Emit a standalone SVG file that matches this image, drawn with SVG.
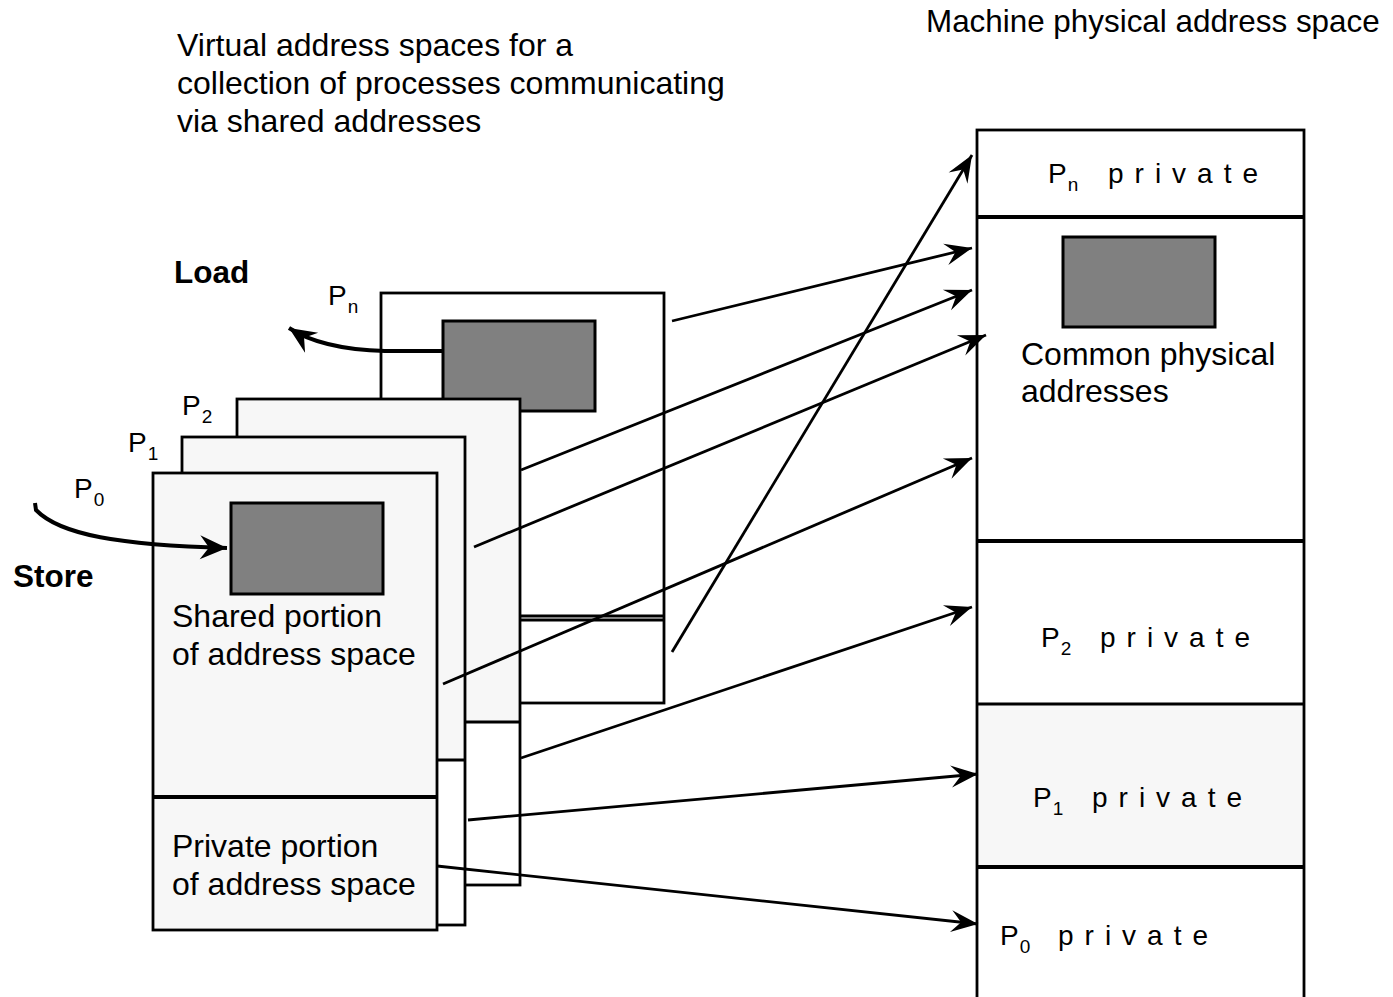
<svg xmlns="http://www.w3.org/2000/svg" width="1393" height="997" viewBox="0 0 1393 997">
<defs>
<style>
text{font-family:"Liberation Sans",Arial,sans-serif;fill:#000}
.t{font-size:32px}
.m{font-size:31.4px}
.b{font-size:31.5px;font-weight:bold}
.p{font-size:28px}
.s{font-size:19px}
.pv{font-size:28px;letter-spacing:11px}
.box{stroke:#000;stroke-width:2.8}
.gray{fill:#808080;stroke:#000;stroke-width:3}
.thick{stroke:#000;stroke-width:4}
.thin{stroke:#000;stroke-width:2.8}
.conn{fill:none;stroke:#000;stroke-width:2.8;marker-end:url(#ah)}
.ls{fill:none;stroke:#000;stroke-width:4;marker-end:url(#ah2)}
</style>
<marker id="ah" viewBox="-30 -14 32 28" markerUnits="userSpaceOnUse" markerWidth="32" markerHeight="28" refX="0" refY="0" orient="auto">
<path d="M0,0 L-27,-11 L-17,0 L-27,11 Z" fill="#000"/>
</marker>
<marker id="ah2" viewBox="-30 -14 32 28" markerUnits="userSpaceOnUse" markerWidth="32" markerHeight="28" refX="0" refY="0" orient="auto">
<path d="M0,0 L-27,-12 L-18,0 L-27,12 Z" fill="#000"/>
</marker>
</defs>
<rect width="1393" height="997" fill="#fff"/>

<g id="titles">
<text class="t" x="177" y="56">Virtual address spaces for a</text>
<text class="t" x="177" y="94">collection of processes communicating</text>
<text class="t" x="177" y="132">via shared addresses</text>
<text class="m" x="926" y="32">Machine physical address space</text>
</g>

<g id="proc-n">
<rect class="box" x="381" y="293" width="283" height="410" fill="#fff"/>
<line class="thin" x1="381" y1="616" x2="664" y2="616"/>
<line class="thin" x1="381" y1="620" x2="664" y2="620"/>
<rect class="gray" x="443" y="321" width="152" height="90"/>
<text class="p" x="328" y="305">P<tspan class="s" dx="1" dy="8">n</tspan></text>
</g>

<g id="proc-2">
<rect x="237" y="399" width="283" height="323" fill="#f7f7f7"/>
<rect x="237" y="722" width="283" height="163" fill="#fff"/>
<rect class="box" x="237" y="399" width="283" height="486" fill="none"/>
<line class="thin" x1="237" y1="722" x2="520" y2="722"/>
<text class="p" x="182" y="415">P<tspan class="s" dx="1" dy="8">2</tspan></text>
</g>

<g id="proc-1">
<rect x="182" y="437" width="283" height="323" fill="#f7f7f7"/>
<rect x="182" y="760" width="283" height="165" fill="#fff"/>
<rect class="box" x="182" y="437" width="283" height="488" fill="none"/>
<line class="thin" x1="182" y1="760" x2="465" y2="760"/>
<text class="p" x="128" y="452">P<tspan class="s" dx="1" dy="8">1</tspan></text>
</g>

<g id="proc-0">
<rect class="box" x="153" y="473" width="284" height="457" fill="#f7f7f7"/>
<line class="thick" x1="153" y1="797" x2="437" y2="797"/>
<rect class="gray" x="231" y="503" width="152" height="91"/>
<text class="p" x="74" y="498">P<tspan class="s" dx="1" dy="8">0</tspan></text>
<text class="t" x="172" y="627">Shared portion</text>
<text class="t" x="172" y="665">of address space</text>
<text class="t" x="172" y="857">Private portion</text>
<text class="t" x="172" y="895">of address space</text>
</g>

<g id="load">
<text class="b" x="174" y="283">Load</text>
</g>
<g id="store">
<text class="b" x="13" y="587">Store</text>
</g>

<g id="physical">
<rect x="977" y="704" width="327" height="163" fill="#f7f7f7"/>
<rect class="box" x="977" y="130" width="327" height="880" fill="none"/>
<line class="thick" x1="977" y1="217" x2="1304" y2="217"/>
<line class="thick" x1="977" y1="541" x2="1304" y2="541"/>
<line class="thin" x1="977" y1="704" x2="1304" y2="704"/>
<line class="thick" x1="977" y1="867" x2="1304" y2="867"/>
<rect class="gray" x="1063" y="237" width="152" height="90"/>
<text class="t" x="1021" y="365">Common physical</text>
<text class="t" x="1021" y="402">addresses</text>
<text class="p" x="1048" y="183">P<tspan class="s" dx="1" dy="8">n</tspan><tspan class="pv" x="1108" dy="-8">private</tspan></text>
<text class="p" x="1041" y="647">P<tspan class="s" dx="1" dy="8">2</tspan><tspan class="pv" x="1100" dy="-8">private</tspan></text>
<text class="p" x="1033" y="807">P<tspan class="s" dx="1" dy="8">1</tspan><tspan class="pv" x="1092" dy="-8">private</tspan></text>
<text class="p" x="1000" y="945">P<tspan class="s" dx="1" dy="8">0</tspan><tspan class="pv" x="1058" dy="-8">private</tspan></text>
</g>

<g id="connectors">
<path class="ls" d="M443,351 L385,351 C345,350 312,343 289,328"/>
<path class="ls" d="M35,503 L36,510 C60,535 120,545 227,548"/>
<path class="conn" d="M672,652 L972,155"/>
<path class="conn" d="M672,321 L972,248"/>
<path class="conn" d="M521,470 L972,290"/>
<path class="conn" d="M474,547 L986,335"/>
<path class="conn" d="M443,684 L972,458"/>
<path class="conn" d="M521,758 L972,607"/>
<path class="conn" d="M468,820 L978,774"/>
<path class="conn" d="M437,866 L978,924"/>
</g>
</svg>
